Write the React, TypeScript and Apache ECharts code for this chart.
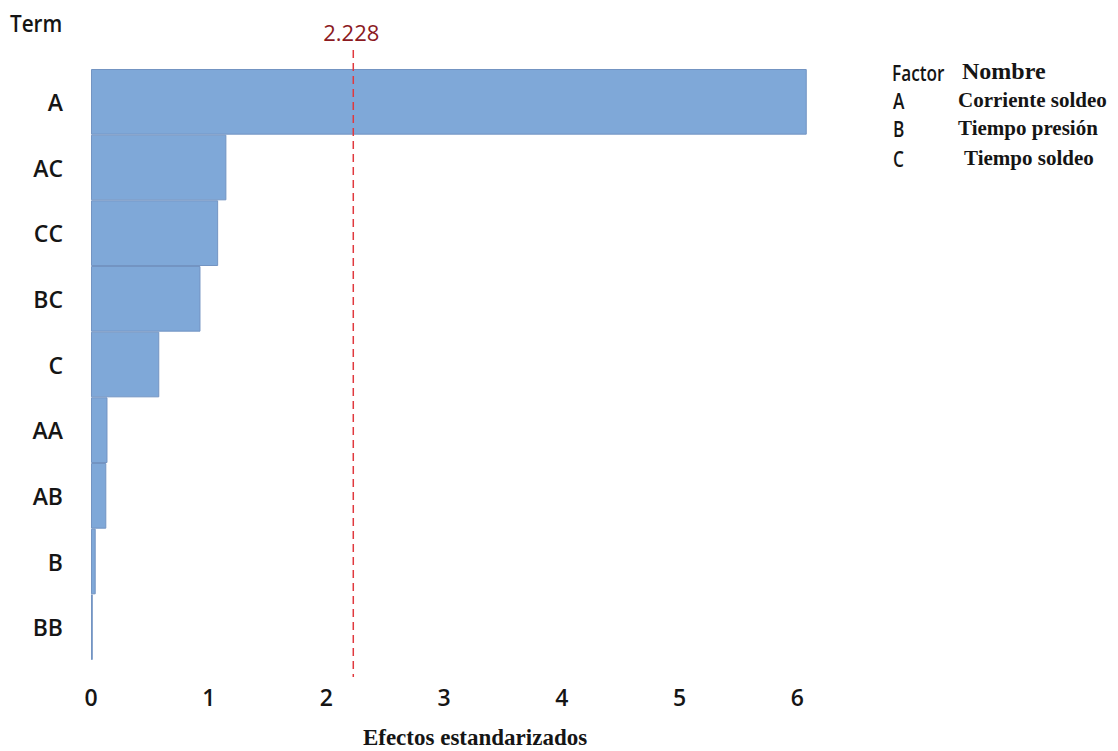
import React, { useEffect, useRef } from "react";
import * as echarts from "echarts";

// Pareto of standardized effects
const terms = ["A", "AC", "CC", "BC", "C", "AA", "AB", "B", "BB"];
const effects = [6.08, 1.15, 1.08, 0.93, 0.58, 0.14, 0.13, 0.04, 0.015];
const criticalValue = 2.228;
const axisMax = 6.15;
const tickStep = 1;

// Factor legend
const factorCodes = ["A", "B", "C"];
const factorNames = ["Corriente soldeo", "Tiempo presión", "Tiempo soldeo"];
const factorRowsY = [101, 129, 159];
const factorNameX = [958, 958, 964];

const SANS = "'Open Sans', 'DejaVu Sans', sans-serif";
const SERIF = "'Liberation Serif', 'DejaVu Serif', serif";
const INK = "#151515";

export default function App() {
  const ref = useRef<HTMLDivElement>(null);

  useEffect(() => {
    if (!ref.current) return;
    const chart = echarts.init(ref.current, undefined, { renderer: "svg" });

    // condensed sans look for the legend codes
    const narrowText = (text: string, x: number, y: number, size: number, sx: number) => ({
      type: "text",
      x,
      y,
      scaleX: sx,
      style: { text, font: `600 ${size}px ${SANS}`, fill: INK, verticalAlign: "middle" },
    });

    const legendTexts: any[] = [
      narrowText("Factor", 892, 73, 21, 0.82),
      {
        type: "text",
        x: 962,
        y: 71,
        style: { text: "Nombre", font: `bold 24px ${SERIF}`, fill: INK, verticalAlign: "middle" },
      },
    ];
    factorCodes.forEach((code, i) => {
      legendTexts.push(narrowText(code, 893, factorRowsY[i], 21, 0.82));
      legendTexts.push({
        type: "text",
        x: factorNameX[i],
        y: factorRowsY[i] - 1,
        style: { text: factorNames[i], font: `bold 21px ${SERIF}`, fill: INK, verticalAlign: "middle" },
      });
    });

    chart.setOption({
      animation: false,
      backgroundColor: "#ffffff",
      grid: { left: 91, top: 69, height: 591, width: 724 },
      xAxis: {
        type: "value",
        min: 0,
        max: axisMax,
        interval: tickStep,
        axisLine: { show: false },
        axisTick: { show: false },
        splitLine: { show: false },
        axisLabel: {
          margin: 25,
          fontFamily: SANS,
          fontWeight: 600,
          fontSize: 23,
          color: INK,
          formatter: (v: number) => (Number.isInteger(v) ? String(v) : ""),
        },
      },
      yAxis: {
        type: "category",
        data: terms,
        inverse: true,
        axisLine: { show: false },
        axisTick: { show: false },
        splitLine: { show: false },
        axisLabel: {
          margin: 28,
          fontFamily: SANS,
          fontWeight: 600,
          fontSize: 23,
          color: INK,
        },
      },
      graphic: {
        elements: [
          narrowText("Term", 10, 23, 23, 0.9),
          {
            type: "text",
            x: 475,
            y: 737,
            style: {
              text: "Efectos estandarizados",
              font: `bold 23px ${SERIF}`,
              fill: INK,
              align: "center",
              verticalAlign: "middle",
            },
          },
          ...legendTexts,
        ],
      },
      series: [
        {
          type: "bar",
          data: effects,
          barCategoryGap: "0%",
          itemStyle: {
            color: "#7fa8d8",
            borderColor: "#7394c2",
            borderWidth: 1,
          },
        },
        {
          type: "custom",
          coordinateSystem: "cartesian2d",
          clip: false,
          z: 5,
          data: [[criticalValue, 0]],
          renderItem: (params: any, api: any) => {
            const x = api.coord([api.value(0), 0])[0];
            const cs = params.coordSys;
            return {
              type: "group",
              children: [
                {
                  type: "line",
                  shape: { x1: x, y1: cs.y - 19, x2: x, y2: cs.y + cs.height + 17 },
                  style: { stroke: "#e0393e", lineWidth: 1.5, lineDash: [8, 5] },
                },
                {
                  type: "text",
                  x: x - 2,
                  y: cs.y - 37,
                  style: {
                    text: String(criticalValue),
                    font: `500 22px ${SANS}`,
                    fill: "#8b1a1f",
                    align: "center",
                    verticalAlign: "middle",
                  },
                },
              ],
            };
          },
        },
      ],
    });

    return () => chart.dispose();
  }, []);

  return (
    <div
      ref={ref}
      style={{ position: "absolute", left: 0, top: 0, width: 1118, height: 751 }}
    />
  );
}
